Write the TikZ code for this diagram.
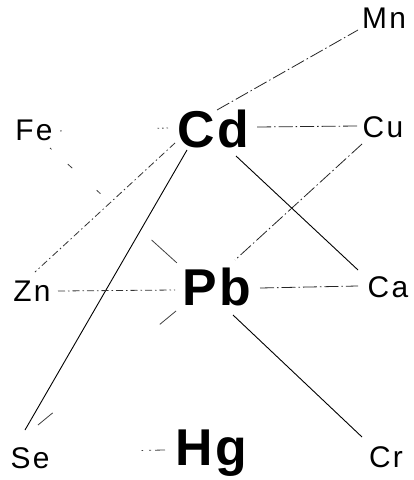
\documentclass[tikz,border=0pt]{standalone}
\usepackage{fontspec}
\setmainfont{Liberation Sans}
\newfontfamily\smallfam[LetterSpace=8]{Liberation Sans}
\newfontfamily\bigfam[LetterSpace=5]{Liberation Sans}
\begin{document}
\begin{tikzpicture}[x=1bp,y=-1bp,
  lbl/.style={font=\smallfam\fontsize{30}{30}\selectfont, anchor=base, inner sep=0pt},
  big/.style={font=\bigfam\fontsize{52}{52}\selectfont\bfseries, anchor=base, inner sep=0pt},
  solidlink/.style={line width=0.9bp, black},
  dashdot/.style={line width=0.8bp, black!85, dash pattern=on 14bp off 3bp on 1.5bp off 3bp},
  finedash/.style={line width=0.8bp, black!80, dash pattern=on 7bp off 3bp on 1.5bp off 3bp},
  faint/.style={line width=0.8bp, black!75}]
\useasboundingbox (0,0) rectangle (413,480);
% nodes (base points)
\node[lbl] (Mn) at (384,29) {Mn};
\node[lbl] (Fe) at (34,141) {Fe};
\node[big] (Cd) at (213,148) {Cd};
\node[lbl] (Cu) at (383,138) {Cu};
\node[lbl] (Zn) at (32,301) {Zn};
\node[big] (Pb) at (217,305) {Pb};
\node[lbl] (Ca) at (388,297) {Ca};
\node[lbl] (Se) at (30,468) {Se};
\node[big] (Hg) at (211,465) {Hg};
\node[lbl] (Cr) at (386,467) {Cr};
% connectors from Cd
\draw[dashdot] ([shift={(4,-38)}]Cd.base) -- ([shift={(-26,1)}]Mn.base);
\draw[dashdot] ([shift={(44,-21)}]Cd.base) -- ([shift={(-25,-12)}]Cu.base);
\draw[faint, dash pattern=on 1.5bp off 3bp on 1.5bp off 3bp on 1.5bp off 96bp on 1.5bp off 20bp]
  ([shift={(-45,-20)}]Cd.base) -- ([shift={(23,-10)}]Fe.base);
\draw[finedash] ([shift={(-38,-5)}]Cd.base) -- ([shift={(3,-29)}]Zn.base);
\draw[solidlink] ([shift={(-26,2)}]Cd.base) -- ([shift={(-5,-38)}]Se.base);
\draw[solidlink] ([shift={(23,8)}]Cd.base) -- ([shift={(-30,-27)}]Ca.base);
% connectors from Pb
\draw[faint, dash pattern=on 2bp off 22bp on 6bp off 33bp on 5bp off 69bp on 34bp off 10bp]
  ([shift={(16,7)}]Fe.base) -- ([shift={(-40,-42)}]Pb.base);
\draw[dashdot] ([shift={(-21,6)}]Cu.base) -- ([shift={(18,-45)}]Pb.base);
\draw[finedash] ([shift={(26,-10)}]Zn.base) -- ([shift={(-42,-15)}]Pb.base);
\draw[dashdot] ([shift={(43,-17)}]Pb.base) -- ([shift={(-30,-11)}]Ca.base);
\draw[solidlink] ([shift={(16,10)}]Pb.base) -- ([shift={(-24,-30)}]Cr.base);
\draw[faint, dash pattern=on 21bp off 139bp on 19bp off 20bp]
  ([shift={(-41,6)}]Pb.base) -- ([shift={(8,-43)}]Se.base);
% Hg
\draw[faint, dash pattern=on 10bp off 4bp on 2bp off 6bp on 1.5bp off 200bp]
  ([shift={(-46,-15)}]Hg.base) -- ([shift={(25,-16)}]Se.base);
\end{tikzpicture}
\end{document}
